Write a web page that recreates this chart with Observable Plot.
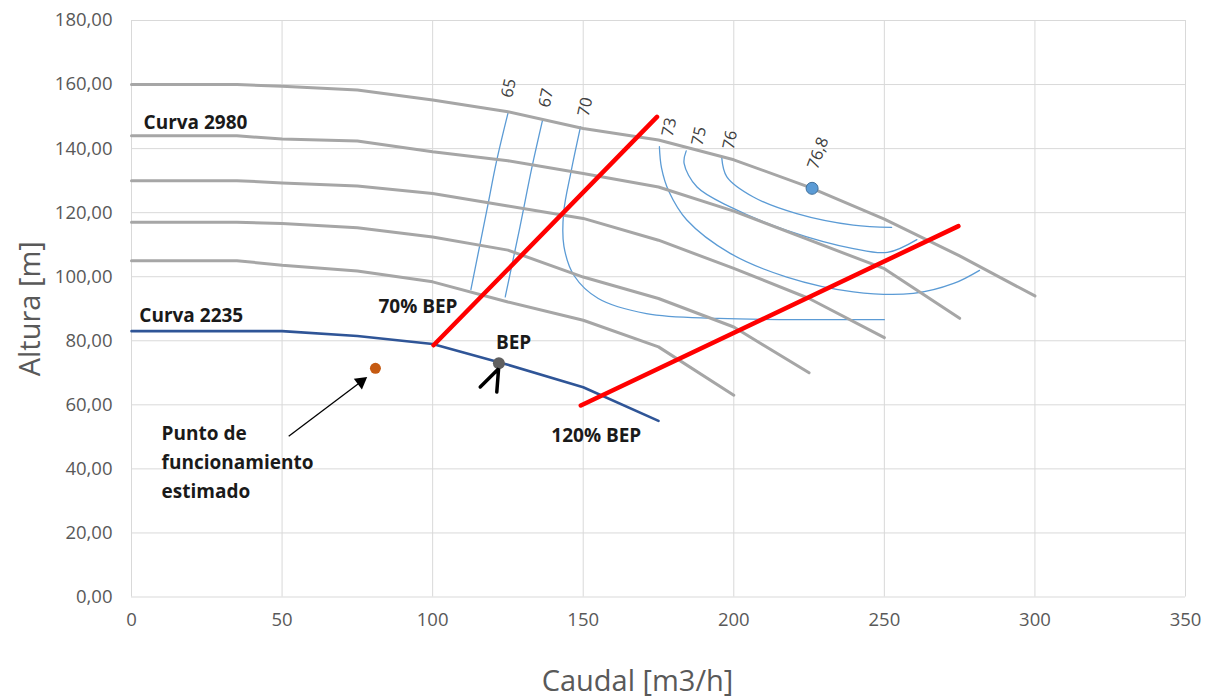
<!DOCTYPE html>
<html>
<head>
<meta charset="utf-8">
<script src="https://cdn.jsdelivr.net/npm/d3@7"></script>
<script src="https://cdn.jsdelivr.net/npm/@observablehq/plot@0.6"></script>
<style>
  html, body { margin: 0; padding: 0; background: white; }
  #chart { width: 1210px; height: 698px; }
</style>
</head>
<body>
<div id="chart"></div>
<script>
// ---- Data ----
const xTicks = [0, 50, 100, 150, 200, 250, 300, 350];
const yTicks = [0, 20, 40, 60, 80, 100, 120, 140, 160, 180];

// Head curves (gray), caudal grid
const Q = [0, 35, 50, 75, 100, 125, 150, 175, 200, 225, 250, 275, 300];
const H1 = [160, 160, 159.5, 158.3, 155.2, 151.5, 146.3, 142.7, 136.5, 128, 118, 106.5, 94];
const H2 = [144, 144, 143, 142.4, 139, 136.2, 132.2, 128, 120.5, 111.5, 102.5, 87];
const H3 = [130, 130, 129.3, 128.3, 126, 122.1, 118.2, 111.4, 102.6, 93.2, 81];
const H4 = [117, 117, 116.6, 115.3, 112.4, 108.3, 99.9, 93.2, 84.3, 70];
const H5 = [105, 105, 103.6, 101.8, 98.4, 92.1, 86.4, 78.1, 63];

// Curva 2235 (blue)
const Q2235 = [0, 50, 75, 100, 125, 150, 175];
const H2235 = [83, 83, 81.5, 79, 72.5, 65.5, 55];

// Efficiency iso-lines
const eff65Q = [125, 121.3, 118, 112.7];
const eff65H = [151, 136.4, 120.8, 96];
const eff67Q = [136.5, 133, 129, 124.1];
const eff67H = [148.9, 134.3, 115.6, 93.7];
const eff70Q = [149.1, 146, 143.5, 143.6, 147, 155, 171, 195, 250];
const eff70H = [146.8, 133, 120, 109.5, 100.3, 93.2, 88.5, 87, 86.6];
const eff73Q = [175.3, 176, 178.5, 184.4, 198.8, 217.6, 239.7, 259.6, 273, 281.6];
const eff73H = [140.6, 134, 126.5, 117.7, 107.3, 99.9, 95.3, 94.8, 97.9, 102];
const eff75Q = [184.2, 183.5, 187.8, 198.8, 217.6, 239.7, 251, 260.8];
const eff75H = [139.3, 135.4, 128, 121.8, 114.5, 108.8, 107.6, 111.6];
const eff76Q = [196, 197.7, 206.5, 220.9, 239.7, 252.4];
const eff76H = [137.2, 131.2, 124.9, 119.7, 116.1, 115.4];

const effLabels = ["65", "67", "70", "73", "75", "76"];
const effLabelQ = [125.3, 137.7, 150.7, 178.6, 188.5, 198.8];
const effLabelH = [158.9, 155.8, 153, 146.7, 143.9, 142.7];

// 70% and 120% BEP lines (red)
const bep70Q = [100.3, 174.5];
const bep70H = [78.6, 149.9];
const bep120Q = [149.2, 274.6];
const bep120H = [59.8, 115.8];

// Points
const bestEffQ = 226, bestEffH = 127.6, bestEffLabel = "76,8";
const bepQ = 122, bepH = 73;
const opQ = 81, opH = 71.4;

// Hand-drawn caret under BEP
const caretQ = [115.8, 121.9, 121.3];
const caretH = [65.6, 71.3, 64.0];

// Arrow to operating point
const arrowQ1 = 52.2, arrowH1 = 50.2, arrowQ2 = 76.2, arrowH2 = 67.2;

// Text annotations
const annText = ["Curva 2980", "Curva 2235", "70% BEP", "BEP", "120% BEP", "Punto de\nfuncionamiento\nestimado"];
const annQ = [4, 2.6, 82, 121, 139.4, 10];
const annH = [148.9, 88.9, 91.7, 80.2, 51.4, 43];

// ---- Build tables ----
const heads = [H1, H2, H3, H4, H5].flatMap((H, k) => H.map((h, i) => ({q: Q[i], h, s: k})));
const curve2235 = Q2235.map((q, i) => ({q, h: H2235[i]}));
const effSets = [[eff65Q, eff65H], [eff67Q, eff67H], [eff70Q, eff70H], [eff73Q, eff73H], [eff75Q, eff75H], [eff76Q, eff76H]];
const effRows = effSets.flatMap(([qs, hs], k) => qs.map((q, i) => ({q, h: hs[i], s: k})));
const effLab = effLabels.map((t, i) => ({t, q: effLabelQ[i], h: effLabelH[i]}));
const redRows = [[bep70Q, bep70H], [bep120Q, bep120H]].flatMap(([qs, hs], k) => qs.map((q, i) => ({q, h: hs[i], s: k})));
const caret = caretQ.map((q, i) => ({q, h: caretH[i]}));
const ann = annText.map((t, i) => ({t, q: annQ[i], h: annH[i]}));

const fmtY = d => d.toFixed(2).replace(".", ",");

const chart = Plot.plot({
  width: 1210,
  height: 698,
  marginLeft: 131,
  marginRight: 25,
  marginTop: 20,
  marginBottom: 101.5,
  x: {domain: [0, 350]},
  y: {domain: [0, 180]},
  style: {fontFamily: "'Open Sans', sans-serif", background: "white", overflow: "visible"},
  marks: [
    Plot.gridX(xTicks, {stroke: "#d9d9d9", strokeOpacity: 1, strokeWidth: 1}),
    Plot.gridY(yTicks, {stroke: "#d9d9d9", strokeOpacity: 1, strokeWidth: 1}),
    Plot.axisX(xTicks, {tickSize: 0, tickPadding: 16, fontSize: 18.5, fill: "#595959", label: null}),
    Plot.axisY(yTicks, {tickSize: 0, tickPadding: 19, fontSize: 18.5, fill: "#595959", tickFormat: fmtY, label: null}),
    Plot.text(["Caudal [m3/h]"], {frameAnchor: "bottom", textAnchor: "middle", lineAnchor: "middle", dx: -21, dy: 84.5, fontSize: 29, fill: "#595959"}),
    Plot.text(["Altura [m]"], {frameAnchor: "left", textAnchor: "middle", lineAnchor: "middle", dx: -101, rotate: -90, fontSize: 29, fill: "#595959"}),

    // efficiency iso-lines
    Plot.line(effRows, {x: "q", y: "h", z: "s", stroke: "#5b9bd5", strokeWidth: 1.3, curve: "catmull-rom"}),
    // head curves
    Plot.line(heads, {x: "q", y: "h", z: "s", stroke: "#a6a6a6", strokeWidth: 3}),
    Plot.line(curve2235, {x: "q", y: "h", stroke: "#2f5597", strokeWidth: 2.6}),
    // BEP limits
    Plot.line(redRows, {x: "q", y: "h", z: "s", stroke: "#ff0000", strokeWidth: 4.5}),

    // points
    Plot.dot([0], {x: () => bestEffQ, y: () => bestEffH, r: 6, fill: "#5b9bd5", stroke: "#41719c", strokeWidth: 1}),
    Plot.dot([0], {x: () => bepQ, y: () => bepH, r: 6, fill: "#5f5f5f"}),
    Plot.dot([0], {x: () => opQ, y: () => opH, r: 5.5, fill: "#c55a11"}),
    Plot.line(caret, {x: "q", y: "h", stroke: "black", strokeWidth: 3.5, strokeLinejoin: "miter"}),

    // arrow
    Plot.link([0], {x1: () => arrowQ1, y1: () => arrowH1, x2: () => arrowQ2, y2: () => arrowH2, stroke: "black", strokeWidth: 1.3}),
    Plot.dot([0], {x: () => arrowQ2, y: () => arrowH2, symbol: "triangle", r: 5, fill: "black", rotate: 53}),

    // labels
    Plot.text(effLab, {x: "q", y: "h", text: "t", rotate: -78, fontSize: 16.5, fill: "#404040"}),
    Plot.text([0], {x: () => bestEffQ + 2, y: () => bestEffH + 11, text: () => bestEffLabel, rotate: -70, fontSize: 16.5, fill: "#404040"}),
    Plot.text(ann, {x: "q", y: "h", text: "t", textAnchor: "start", fontSize: 19, fontWeight: "bold", fill: "#1a1a1a", lineHeight: 1.53})
  ]
});
document.getElementById("chart").appendChild(chart);
</script>
</body>
</html>
